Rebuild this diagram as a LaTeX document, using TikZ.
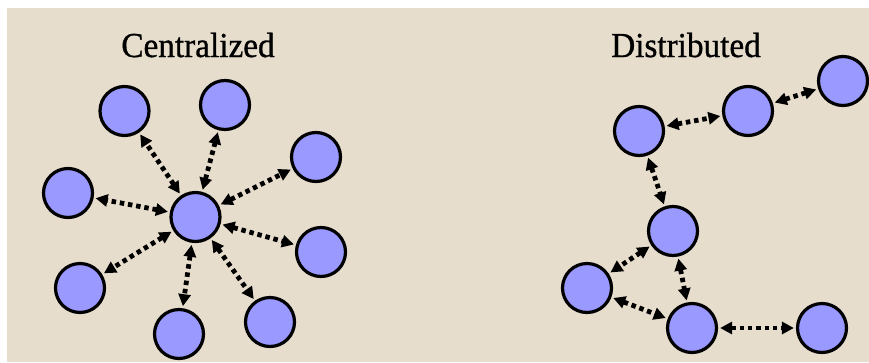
\documentclass[tikz,border=0pt]{standalone}
\usepackage{fontspec}
\setmainfont{Liberation Serif}
\newfontfamily\titlefont[FakeBold=0.9]{Liberation Serif}
\usetikzlibrary{arrows.meta}
\definecolor{bgbeige}{RGB}{230,221,204}
\definecolor{nodefill}{RGB}{153,153,255}
\begin{document}
\begin{tikzpicture}[x=1pt,y=-1pt,
  peer/.style={circle,draw=black,line width=3.2pt,fill=nodefill,minimum size=49pt,inner sep=0pt},
  link/.style={line width=4.8pt,dash pattern=on 4.5pt off 3.8pt,
    {Triangle[length=12pt,width=12pt]}-{Triangle[length=12pt,width=12pt]},
    shorten >=2pt,shorten <=2pt},
  title/.style={font=\titlefont\fontsize{35}{40}\selectfont,anchor=base,xscale=0.95}]
\useasboundingbox (0,0) rectangle (869,362);
\fill[white] (0,0) rectangle (869,362);
\fill[bgbeige] (7,8) rectangle (869,362);
\node[title] (tc) at (198,57) {Centralized};
\node[title] (td) at (686,57) {Distributed};
% centralized
\node[peer] (c0) at (195.5,217) {};
\node[peer] (c1) at (124.5,111) {};
\node[peer] (c2) at (225,105) {};
\node[peer] (c3) at (316,157) {};
\node[peer] (c4) at (68,193) {};
\node[peer] (c5) at (321,252) {};
\node[peer] (c6) at (80,288) {};
\node[peer] (c7) at (179,334) {};
\node[peer] (c8) at (270,322) {};
\foreach \i in {1,...,8}{\draw[link] (c0) -- (c\i);}
% distributed
\node[peer] (dA) at (639,131) {};
\node[peer] (dB) at (748,111) {};
\node[peer] (dC) at (843,81) {};
\node[peer] (dD) at (673,231) {};
\node[peer] (dE) at (587,288) {};
\node[peer] (dF) at (692,328) {};
\node[peer] (dG) at (822,328) {};
\draw[link] (dA) -- (dB);
\draw[link] (dB) -- (dC);
\draw[link] (dA) -- (dD);
\draw[link] (dD) -- (dE);
\draw[link] (dD) -- (dF);
\draw[link] (dE) -- (dF);
\draw[link] (dF) -- (dG);
\end{tikzpicture}
\end{document}
